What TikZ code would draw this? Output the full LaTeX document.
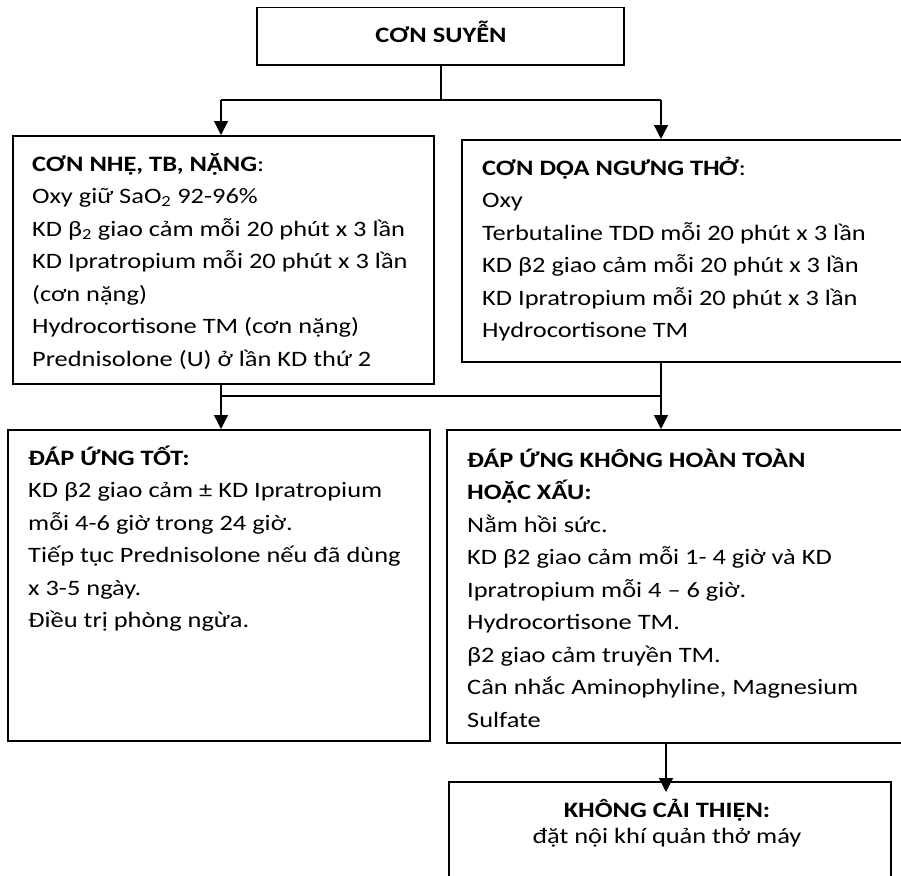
\documentclass[tikz,border=0pt]{standalone}
\usepackage{fontspec}
\setmainfont{Carlito}[FakeStretch=1.2]
\usetikzlibrary{arrows.meta}
\tikzset{
  box/.style={draw, line width=1.5pt, rectangle, inner sep=0pt, anchor=north west},
  conn/.style={line width=1.3pt},
  arr/.style={line width=1.3pt, -{Triangle[width=14pt,length=14pt]}},
  txt/.style={anchor=base west, inner sep=0pt, font=\fontsize{22}{32.5}\selectfont},
  ctxt/.style={anchor=base, inner sep=0pt, font=\fontsize{22}{26}\selectfont},
}
\begin{document}
\begin{tikzpicture}[x=1pt,y=-1pt]
\useasboundingbox (0,0) rectangle (901,875);
% boxes
\node[box, minimum width=367pt, minimum height=57pt] (top) at (256,7) {};
\node[box, minimum width=421pt, minimum height=248pt] (A) at (12,135) {};
\node[box, minimum width=460pt, minimum height=222pt] (B) at (461,139) {};
\node[box, minimum width=422pt, minimum height=311pt] (C) at (7,429) {};
\node[box, minimum width=464pt, minimum height=313pt] (D) at (446,429) {};
\node[box, minimum width=442pt, minimum height=130pt] (E) at (448,781) {};
% texts
\node[ctxt] (topt) at (441,43) {\textbf{CƠN SUYỄN}};
\node[txt] (At) at (32,171) {\parbox[t]{500pt}{\raggedright
\textbf{CƠN NHẸ, TB, NẶNG}:\\
Oxy giữ SaO\textsubscript{2} 92-96\%\\
KD β\textsubscript{2} giao cảm mỗi 20 phút x 3 lần\\
KD Ipratropium mỗi 20 phút x 3 lần\\
(cơn nặng)\\
Hydrocortisone TM (cơn nặng)\\
Prednisolone (U) ở lần KD thứ 2}};
\node[txt] (Bt) at (482,175) {\parbox[t]{500pt}{\raggedright
\textbf{CƠN DỌA NGƯNG THỞ}:\\
Oxy\\
Terbutaline TDD mỗi 20 phút x 3 lần\\
KD β2 giao cảm mỗi 20 phút x 3 lần\\
KD Ipratropium mỗi 20 phút x 3 lần\\
Hydrocortisone TM}};
\node[txt] (Ct) at (28,465) {\parbox[t]{500pt}{\raggedright
\textbf{ĐÁP ỨNG TỐT:}\\
KD β2 giao cảm ± KD Ipratropium\\
mỗi 4-6 giờ trong 24 giờ.\\
Tiếp tục Prednisolone nếu đã dùng\\
x 3-5 ngày.\\
Điều trị phòng ngừa.}};
\node[txt] (Dt) at (467,467) {\parbox[t]{500pt}{\raggedright
\textbf{ĐÁP ỨNG KHÔNG HOÀN TOÀN}\\
\textbf{HOẶC XẤU:}\\
Nằm hồi sức.\\
KD β2 giao cảm mỗi 1- 4 giờ và KD\\
Ipratropium mỗi 4 -- 6 giờ.\\
Hydrocortisone TM.\\
β2 giao cảm truyền TM.\\
Cân nhắc Aminophyline, Magnesium\\
Sulfate}};
\node[ctxt] (Et) at (667,817) {\parbox[t]{420pt}{\centering
\textbf{KHÔNG CẢI THIỆN:}\\
đặt nội khí quản thở máy}};
% connectors
\coordinate (j1) at (441,100);
\coordinate (jl) at (221,100);
\coordinate (jr) at (661,100);
\draw[conn] (j1 |- top.south) -- (j1);
\draw[conn] (jl) -- (jr);
\draw[arr] (jl) -- (jl |- A.north);
\draw[arr] (jr) -- (jr |- B.north);
\coordinate (kl) at (221,396);
\coordinate (kr) at (661,396);
\draw[conn] (kl) -- (kr);
\draw[arr] (kl |- A.south) -- (kl |- C.north);
\draw[arr] (kr |- B.south) -- (kr |- D.north);
\coordinate (et) at (666,792);
\draw[arr] (et |- D.south) -- (et);
\end{tikzpicture}
\end{document}
